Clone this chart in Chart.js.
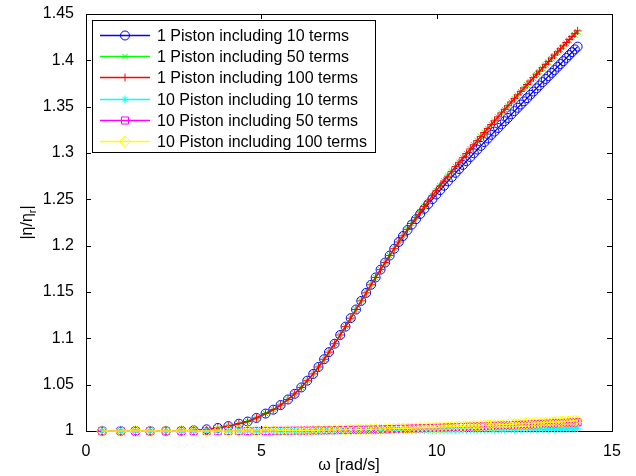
<!DOCTYPE html>
<html>
<head>
<meta charset="utf-8">
<script src="https://cdn.jsdelivr.net/npm/chart.js@4"></script>
<style>
  html, body { margin: 0; padding: 0; background: #fff; }
  #wrap { width: 636px; height: 476px; position: relative; }
</style>
</head>
<body>
<div id="wrap"><canvas id="chart"></canvas></div>
<script>
// frequency samples (rad/s)
const omega = [
  0.46, 0.99, 1.41, 1.83, 2.28, 2.72, 3.07, 3.44, 3.76, 4.06,
  4.36, 4.61, 4.86, 5.12, 5.34, 5.55, 5.76, 5.95, 6.14, 6.31,
  6.48, 6.63, 6.79, 6.93, 7.09, 7.25, 7.40, 7.55, 7.70, 7.85,
  7.99, 8.13, 8.26, 8.40, 8.53, 8.66, 8.79, 8.92, 9.04, 9.17,
  9.29, 9.41, 9.53, 9.65, 9.76, 9.88, 9.99, 10.10, 10.21, 10.32,
  10.43, 10.54, 10.64, 10.75, 10.85, 10.96, 11.06, 11.16, 11.26, 11.36,
  11.46, 11.56, 11.65, 11.75, 11.85, 11.94, 12.03, 12.13, 12.22, 12.31,
  12.40, 12.49, 12.58, 12.67, 12.76, 12.85, 12.93, 13.02, 13.11, 13.19,
  13.28, 13.36, 13.45, 13.53, 13.61, 13.70, 13.78, 13.86, 13.94, 14.02
];

const p1Terms10 = [
  1.0000, 1.0000, 1.0000, 1.0000, 1.0000, 1.0002, 1.0007, 1.0018, 1.0033, 1.0053,
  1.0079, 1.0102, 1.0141, 1.0188, 1.0230, 1.0280, 1.0340, 1.0401, 1.0470, 1.0543,
  1.0616, 1.0691, 1.0774, 1.0851, 1.0942, 1.1036, 1.1126, 1.1218, 1.1311, 1.1404,
  1.1491, 1.1578, 1.1657, 1.1741, 1.1818, 1.1893, 1.1967, 1.2040, 1.2104, 1.2169,
  1.2228, 1.2286, 1.2342, 1.2398, 1.2449, 1.2503, 1.2552, 1.2600, 1.2647, 1.2694,
  1.2740, 1.2786, 1.2827, 1.2871, 1.2911, 1.2956, 1.2997, 1.3037, 1.3077, 1.3117,
  1.3157, 1.3196, 1.3231, 1.3270, 1.3309, 1.3343, 1.3378, 1.3417, 1.3452, 1.3488,
  1.3523, 1.3557, 1.3592, 1.3628, 1.3663, 1.3698, 1.3729, 1.3765, 1.3799, 1.3830,
  1.3864, 1.3895, 1.3930, 1.3960, 1.3991, 1.4026, 1.4057, 1.4088, 1.4118, 1.4148
];

const p1Terms50 = [
  1.0000, 1.0000, 1.0000, 1.0000, 1.0000, 1.0002, 1.0007, 1.0018, 1.0033, 1.0053,
  1.0079, 1.0102, 1.0141, 1.0188, 1.0230, 1.0280, 1.0340, 1.0401, 1.0470, 1.0543,
  1.0616, 1.0691, 1.0774, 1.0851, 1.0942, 1.1036, 1.1126, 1.1218, 1.1311, 1.1404,
  1.1491, 1.1578, 1.1657, 1.1741, 1.1818, 1.1893, 1.1967, 1.2040, 1.2106, 1.2176,
  1.2240, 1.2302, 1.2363, 1.2424, 1.2479, 1.2538, 1.2592, 1.2645, 1.2698, 1.2750,
  1.2802, 1.2853, 1.2899, 1.2949, 1.2994, 1.3044, 1.3089, 1.3132, 1.3176, 1.3220,
  1.3263, 1.3306, 1.3345, 1.3387, 1.3430, 1.3467, 1.3505, 1.3547, 1.3584, 1.3622,
  1.3660, 1.3697, 1.3733, 1.3770, 1.3807, 1.3844, 1.3876, 1.3913, 1.3949, 1.3980,
  1.4016, 1.4048, 1.4084, 1.4116, 1.4147, 1.4183, 1.4215, 1.4247, 1.4277, 1.4308
];

const p1Terms100 = [
  1.0000, 1.0000, 1.0000, 1.0000, 1.0000, 1.0002, 1.0007, 1.0018, 1.0033, 1.0053,
  1.0079, 1.0102, 1.0141, 1.0188, 1.0230, 1.0280, 1.0340, 1.0401, 1.0470, 1.0543,
  1.0616, 1.0691, 1.0774, 1.0851, 1.0942, 1.1036, 1.1126, 1.1218, 1.1311, 1.1404,
  1.1491, 1.1578, 1.1657, 1.1741, 1.1818, 1.1893, 1.1967, 1.2040, 1.2106, 1.2176,
  1.2240, 1.2302, 1.2363, 1.2424, 1.2479, 1.2538, 1.2592, 1.2645, 1.2698, 1.2750,
  1.2802, 1.2853, 1.2899, 1.2949, 1.2994, 1.3044, 1.3089, 1.3133, 1.3177, 1.3221,
  1.3265, 1.3308, 1.3347, 1.3390, 1.3433, 1.3471, 1.3509, 1.3551, 1.3589, 1.3627,
  1.3665, 1.3702, 1.3739, 1.3776, 1.3813, 1.3850, 1.3883, 1.3920, 1.3956, 1.3988,
  1.4024, 1.4056, 1.4092, 1.4124, 1.4156, 1.4192, 1.4224, 1.4256, 1.4287, 1.4318
];

const p10Terms10 = [
  1.0000, 1.0000, 1.0000, 1.0000, 1.0000, 1.0000, 1.0000, 1.0000, 1.0000, 1.0000,
  1.0000, 1.0000, 1.0000, 1.0000, 1.0001, 1.0001, 1.0001, 1.0001, 1.0001, 1.0002,
  1.0002, 1.0002, 1.0002, 1.0003, 1.0003, 1.0003, 1.0003, 1.0004, 1.0004, 1.0004,
  1.0005, 1.0005, 1.0005, 1.0006, 1.0006, 1.0007, 1.0007, 1.0007, 1.0008, 1.0008,
  1.0008, 1.0009, 1.0009, 1.0010, 1.0010, 1.0010, 1.0011, 1.0011, 1.0012, 1.0012,
  1.0012, 1.0013, 1.0013, 1.0014, 1.0014, 1.0015, 1.0015, 1.0015, 1.0016, 1.0016,
  1.0017, 1.0017, 1.0018, 1.0018, 1.0018, 1.0019, 1.0019, 1.0020, 1.0020, 1.0021,
  1.0021, 1.0022, 1.0022, 1.0023, 1.0023, 1.0023, 1.0024, 1.0024, 1.0025, 1.0025,
  1.0026, 1.0026, 1.0027, 1.0027, 1.0028, 1.0028, 1.0029, 1.0029, 1.0030, 1.0030
];

const p10Terms50 = [
  1.0000, 1.0000, 1.0000, 1.0000, 1.0000, 1.0000, 1.0000, 1.0000, 1.0000, 1.0000,
  1.0000, 1.0000, 1.0001, 1.0001, 1.0002, 1.0002, 1.0003, 1.0004, 1.0004, 1.0005,
  1.0006, 1.0007, 1.0007, 1.0008, 1.0009, 1.0010, 1.0011, 1.0012, 1.0013, 1.0014,
  1.0015, 1.0016, 1.0017, 1.0018, 1.0019, 1.0021, 1.0022, 1.0023, 1.0024, 1.0025,
  1.0027, 1.0028, 1.0029, 1.0030, 1.0032, 1.0033, 1.0034, 1.0035, 1.0037, 1.0038,
  1.0039, 1.0041, 1.0042, 1.0043, 1.0045, 1.0046, 1.0047, 1.0049, 1.0050, 1.0051,
  1.0053, 1.0054, 1.0056, 1.0057, 1.0059, 1.0060, 1.0061, 1.0063, 1.0064, 1.0066,
  1.0067, 1.0068, 1.0070, 1.0071, 1.0073, 1.0074, 1.0076, 1.0077, 1.0079, 1.0080,
  1.0082, 1.0083, 1.0085, 1.0086, 1.0088, 1.0089, 1.0091, 1.0092, 1.0094, 1.0095
];

const p10Terms100 = [
  1.0000, 1.0000, 1.0000, 1.0000, 1.0000, 1.0000, 1.0000, 1.0000, 1.0000, 1.0000,
  1.0000, 1.0000, 1.0001, 1.0001, 1.0002, 1.0003, 1.0003, 1.0004, 1.0005, 1.0006,
  1.0007, 1.0008, 1.0009, 1.0009, 1.0011, 1.0012, 1.0013, 1.0014, 1.0015, 1.0016,
  1.0018, 1.0019, 1.0020, 1.0021, 1.0023, 1.0024, 1.0025, 1.0027, 1.0028, 1.0029,
  1.0031, 1.0032, 1.0034, 1.0035, 1.0036, 1.0038, 1.0039, 1.0041, 1.0042, 1.0044,
  1.0045, 1.0047, 1.0049, 1.0050, 1.0052, 1.0053, 1.0055, 1.0056, 1.0058, 1.0060,
  1.0061, 1.0063, 1.0064, 1.0066, 1.0068, 1.0069, 1.0071, 1.0073, 1.0074, 1.0076,
  1.0078, 1.0079, 1.0081, 1.0083, 1.0084, 1.0086, 1.0088, 1.0089, 1.0091, 1.0093,
  1.0095, 1.0096, 1.0098, 1.0100, 1.0102, 1.0103, 1.0105, 1.0107, 1.0109, 1.0110
];

const seriesLabels = [
  '1 Piston including 10 terms',
  '1 Piston including 50 terms',
  '1 Piston including 100 terms',
  '10 Piston including 10 terms',
  '10 Piston including 50 terms',
  '10 Piston including 100 terms'
];

const xTicks = [0, 5, 10, 15];
const yTicks = [1, 1.05, 1.1, 1.15, 1.2, 1.25, 1.3, 1.35, 1.4, 1.45];

const FONT = '"Liberation Sans", Arial, Helvetica, sans-serif';

// matlab-ish line specs: b-o, g-x, r-+, c-*, m-s, y-d
const series = [
  { values: p1Terms10, color: '#0000ff', style: 'circle', r: 4.5 },
  { values: p1Terms50, color: '#00ff00', style: 'crossRot', r: 4 },
  { values: p1Terms100, color: '#ff0000', style: 'cross', r: 4 },
  { values: p10Terms10, color: '#00ffff', style: 'star', r: 4 },
  { values: p10Terms50, color: '#ff00ff', style: 'rect', r: 5 },
  { values: p10Terms100, color: '#ffff00', style: 'rectRot', r: 5.5 }
];

function toPoints(ys) {
  return omega.map((x, i) => ({ x: x, y: ys[i] }));
}

function drawMarker(ctx, style, x, y, r) {
  const d = r * Math.SQRT1_2;
  ctx.beginPath();
  if (style === 'circle') {
    ctx.arc(x, y, r, 0, Math.PI * 2);
  }
  if (style === 'cross' || style === 'star') {
    ctx.moveTo(x - r, y); ctx.lineTo(x + r, y);
    ctx.moveTo(x, y - r); ctx.lineTo(x, y + r);
  }
  if (style === 'crossRot' || style === 'star') {
    ctx.moveTo(x - d, y - d); ctx.lineTo(x + d, y + d);
    ctx.moveTo(x - d, y + d); ctx.lineTo(x + d, y - d);
  }
  if (style === 'rect') {
    ctx.rect(x - d, y - d, 2 * d, 2 * d);
  }
  if (style === 'rectRot') {
    ctx.moveTo(x - r, y); ctx.lineTo(x, y - r);
    ctx.lineTo(x + r, y); ctx.lineTo(x, y + r);
    ctx.closePath();
  }
  ctx.stroke();
}

// box + inward ticks like a matlab axes
const axesBox = {
  id: 'axesBox',
  beforeDatasetsDraw(chart) {
    const { ctx, chartArea: a, scales } = chart;
    const t = 5;
    ctx.save();
    ctx.strokeStyle = '#000';
    ctx.lineWidth = 1;
    ctx.strokeRect(a.left + 0.5, a.top + 0.5, a.right - a.left, a.bottom - a.top);
    ctx.beginPath();
    xTicks.forEach(v => {
      const px = Math.round(scales.x.getPixelForValue(v)) + 0.5;
      ctx.moveTo(px, a.bottom); ctx.lineTo(px, a.bottom - t);
      ctx.moveTo(px, a.top); ctx.lineTo(px, a.top + t);
    });
    yTicks.forEach(v => {
      const py = Math.round(scales.y.getPixelForValue(v)) + 0.5;
      ctx.moveTo(a.left, py); ctx.lineTo(a.left + t, py);
      ctx.moveTo(a.right, py); ctx.lineTo(a.right - t, py);
    });
    ctx.stroke();
    ctx.restore();
  },
  afterDatasetsDraw(chart) {
    const { ctx, chartArea: a } = chart;
    ctx.save();
    ctx.fillStyle = '#000';

    // x label
    ctx.font = '16px ' + FONT;
    ctx.textAlign = 'center';
    ctx.textBaseline = 'middle';
    ctx.fillText('ω [rad/s]', (a.left + a.right) / 2, a.bottom + 35);

    // y label |η/η_r|
    ctx.translate(28, (a.top + a.bottom) / 2);
    ctx.rotate(-Math.PI / 2);
    ctx.textAlign = 'left';
    const main = '|η/η', sub = 'r', end = '|';
    const w1 = ctx.measureText(main).width;
    const w3 = ctx.measureText(end).width;
    ctx.font = '11px ' + FONT;
    const w2 = ctx.measureText(sub).width;
    let x0 = -(w1 + w2 + w3) / 2;
    ctx.font = '16px ' + FONT;
    ctx.fillText(main, x0, 0);
    ctx.font = '11px ' + FONT;
    ctx.fillText(sub, x0 + w1, 5);
    ctx.font = '16px ' + FONT;
    ctx.fillText(end, x0 + w1 + w2, 0);
    ctx.restore();

    // legend box
    const bx = a.left + 6, by = a.top + 6, bw = 283, bh = 132;
    ctx.save();
    ctx.fillStyle = '#fff';
    ctx.fillRect(bx, by, bw, bh);
    ctx.strokeStyle = '#000';
    ctx.lineWidth = 1;
    ctx.strokeRect(bx + 0.5, by + 0.5, bw, bh);
    ctx.font = '16px ' + FONT;
    ctx.textAlign = 'left';
    ctx.textBaseline = 'middle';
    series.forEach((s, i) => {
      const y = Math.round(by + 15 + i * 21.2) + 0.5;
      ctx.strokeStyle = s.color;
      ctx.lineWidth = 1.4;
      ctx.beginPath();
      ctx.moveTo(bx + 8, y);
      ctx.lineTo(bx + 58, y);
      ctx.stroke();
      ctx.lineWidth = 1;
      drawMarker(ctx, s.style, bx + 33, y, s.r);
      ctx.fillStyle = '#000';
      ctx.fillText(seriesLabels[i], bx + 65, y + 1);
    });
    ctx.restore();
  }
};

Chart.defaults.font.family = FONT;
Chart.defaults.font.size = 16;
Chart.defaults.color = '#000';

new Chart(document.getElementById('chart').getContext('2d'), {
  type: 'line',
  data: {
    datasets: series.map((s, i) => ({
      label: seriesLabels[i],
      data: toPoints(s.values),
      borderColor: s.color,
      borderWidth: 1.3,
      pointStyle: s.style,
      pointRadius: s.r,
      pointBorderColor: s.color,
      pointBackgroundColor: 'rgba(0,0,0,0)',
      pointBorderWidth: 1,
      fill: false,
      tension: 0,
      clip: false,
      order: series.length - 1 - i
    }))
  },
  options: {
    responsive: true,
    maintainAspectRatio: false,
    animation: false,
    events: [],
    layout: { padding: { top: 14, right: 24, left: 0, bottom: 0 } },
    plugins: {
      legend: { display: false },
      tooltip: { enabled: false }
    },
    scales: {
      x: {
        type: 'linear',
        min: 0,
        max: 15,
        grid: { display: false },
        border: { display: false },
        afterBuildTicks: scale => { scale.ticks = xTicks.map(v => ({ value: v })); },
        afterFit: scale => { scale.height = 45; },
        ticks: { padding: 3, maxRotation: 0, callback: v => String(v) }
      },
      y: {
        type: 'linear',
        min: 1,
        max: 1.45,
        grid: { display: false },
        border: { display: false },
        afterBuildTicks: scale => { scale.ticks = yTicks.map(v => ({ value: v })); },
        afterFit: scale => { scale.width = 86; },
        ticks: { padding: 4, callback: v => String(v) }
      }
    }
  },
  plugins: [axesBox]
});
</script>
</body>
</html>
